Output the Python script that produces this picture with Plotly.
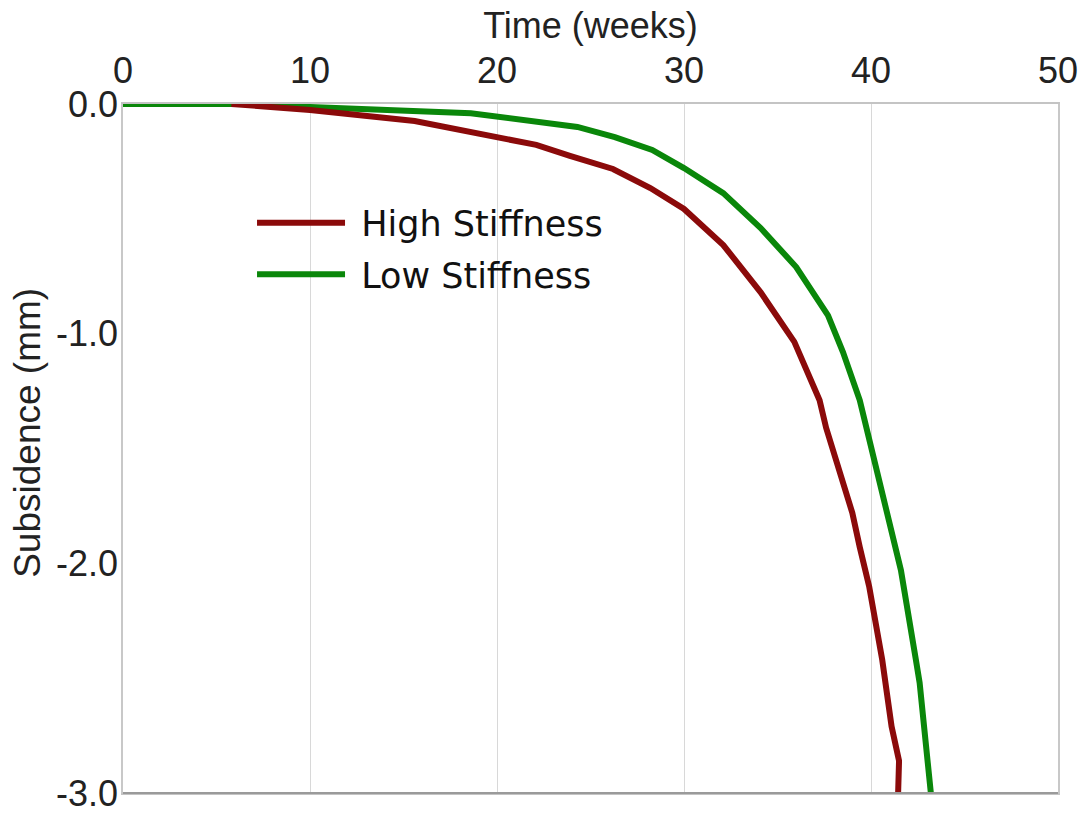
import plotly.graph_objects as go

# Time (weeks) and subsidence (mm)
high_time = [0, 5.8, 10.0, 15.6, 18.5, 22.1, 23.9, 26.2, 28.2, 30.0, 32.1, 34.1,
             35.9, 36.6, 37.25, 37.6, 39.0, 39.4, 39.9, 40.6, 41.1, 41.5, 41.45]
high_subs = [None, 0, -0.026, -0.074, -0.118, -0.178, -0.226, -0.283, -0.366, -0.457,
             -0.614, -0.82, -1.036, -1.17, -1.29, -1.41, -1.78, -1.93, -2.10, -2.42,
             -2.71, -2.86, -3.0]

low_time = [0, 7.4, None, 7.7, 10.0, 18.6, 22.3, 24.3, 26.3, 28.3, 30.0, 32.1, 34.1,
            36.0, 37.7, 38.5, 39.4, 40.0, 40.7, 41.6, 42.4, 42.6, 43.2]
low_subs = [0, 0, None, 0, -0.013, -0.04, -0.078, -0.1, -0.144, -0.2, -0.279, -0.388,
            -0.54, -0.71, -0.92, -1.08, -1.29, -1.485, -1.72, -2.03, -2.42, -2.52, -3.0]

x_ticks = [0, 10, 20, 30, 40, 50]
y_ticks = [0, -1, -2, -3]
y_tick_text = ["0.0", "-1.0", "-2.0", "-3.0"]

fig = go.Figure()
# Low stiffness drawn first so the high-stiffness curve sits on top
fig.add_trace(go.Scatter(x=low_time, y=low_subs, mode="lines", name=" Low Stiffness",
                         legendgroup="b", legendrank=2,
                         line=dict(color="#0a870a", width=6), connectgaps=False))
fig.add_trace(go.Scatter(x=high_time, y=high_subs, mode="lines", name=" High Stiffness",
                         legendgroup="a", legendrank=1,
                         line=dict(color="#8b0a0a", width=6), connectgaps=False))

tick_font = dict(family="Liberation Sans, Arial, sans-serif", size=36, color="#222222")

fig.update_layout(
    width=1086, height=813,
    margin=dict(l=123, r=28, t=104, b=20, autoexpand=False),
    paper_bgcolor="white", plot_bgcolor="white",
    font=tick_font,
    showlegend=True,
    legend=dict(x=0.138, y=0.87, xanchor="left", yanchor="top",
                bgcolor="rgba(0,0,0,0)", itemwidth=88,
                font=dict(family="DejaVu Sans", size=35, color="#111111"),
                tracegroupgap=3),
    xaxis=dict(side="top", range=[0, 50], tickvals=x_ticks, ticks="",
               showgrid=True, gridcolor="#d8d8d8", gridwidth=1, automargin=False,
               showline=True, linecolor="#c4c4c4", linewidth=1.5, mirror=True,
               zeroline=False, tickfont=tick_font, ticklabelstandoff=5,
               ticklabeloverflow="allow",
               title=dict(text="Time (weeks)", font=tick_font, standoff=0)),
    yaxis=dict(range=[-3, 0], tickvals=y_ticks, ticktext=y_tick_text, ticks="",
               showgrid=False, showline=True, linecolor="#c8c8c8", linewidth=1.5,
               mirror=True, zeroline=False, tickfont=tick_font, automargin=False,
               ticklabelstandoff=-4, ticklabeloverflow="allow"),
    annotations=[dict(text="Subsidence (mm)", textangle=-90, xref="paper", yref="paper",
                      x=-0.1025, y=0.523, xanchor="center", yanchor="middle",
                      showarrow=False,
                      font=dict(family="Liberation Sans, Arial, sans-serif", size=37,
                                color="#222222"))],
)
fig.add_shape(type="line", xref="paper", yref="paper", x0=0, x1=1, y0=0, y1=0,
              line=dict(color="#9a9a9a", width=2))

fig.write_html("out.html", post_script="document.body.style.margin='0px';",
               config={"displayModeBar": False})
